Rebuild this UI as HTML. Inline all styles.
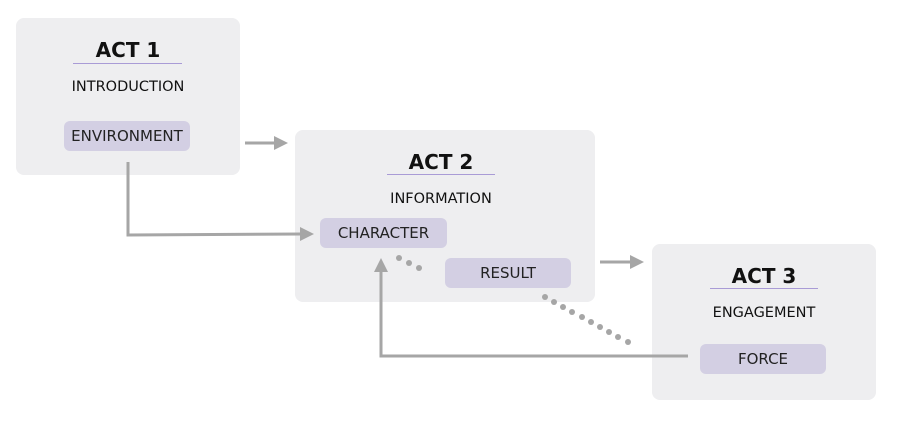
<!DOCTYPE html>
<html><head><style>
body{margin:0;width:900px;height:427px;background:#fff;position:relative;overflow:hidden;font-family:"DejaVu Sans","Liberation Sans",sans-serif;}
.box{position:absolute;background:#eeeef0;border-radius:8px;}
.t{position:absolute;text-align:center;color:#111;}
.h{font-weight:bold;font-size:20px;}
.s{font-size:14.5px;}
.u{position:absolute;height:1px;background:#a99bd6;}
.p{position:absolute;background:#d3cfe3;border-radius:6px;font-size:15px;color:#222;text-align:center;}
svg{position:absolute;left:0;top:0;}
</style></head><body>
<div class="box" style="left:16px;top:18px;width:224px;height:157px"></div>
<div class="box" style="left:295px;top:130px;width:300px;height:172px"></div>
<div class="box" style="left:652px;top:244px;width:224px;height:156px"></div>

<div class="t h" style="left:28px;width:200px;top:38px">ACT 1</div>
<div class="u" style="left:73px;width:109px;top:63px"></div>
<div class="t s" style="left:28px;width:200px;top:79px">INTRODUCTION</div>
<div class="p" style="left:64px;top:121px;width:126px;height:30px;line-height:31px">ENVIRONMENT</div>

<div class="t h" style="left:341px;width:200px;top:150px">ACT 2</div>
<div class="u" style="left:387px;width:108px;top:174px"></div>
<div class="t s" style="left:341px;width:200px;top:191px">INFORMATION</div>
<div class="p" style="left:320px;top:218px;width:127px;height:30px;line-height:31px">CHARACTER</div>
<div class="p" style="left:445px;top:258px;width:126px;height:30px;line-height:31px">RESULT</div>

<div class="t h" style="left:664px;width:200px;top:264px">ACT 3</div>
<div class="u" style="left:710px;width:108px;top:288px"></div>
<div class="t s" style="left:664px;width:200px;top:305px">ENGAGEMENT</div>
<div class="p" style="left:700px;top:344px;width:126px;height:30px;line-height:31px">FORCE</div>

<svg width="900" height="427">
<g stroke="#a6a6a6" stroke-width="3" fill="none">
<line x1="245" y1="143" x2="276" y2="143"/>
<line x1="600" y1="262" x2="631" y2="262"/>
<polyline points="128,162 128,235 302,234"/>
<polyline points="688,356 381,356 381,272"/>
</g>
<g fill="#a6a6a6">
<polygon points="288,143 274,136 274,150"/>
<polygon points="644,262 630,255 630,269"/>
<polygon points="314,234 300,227 300,241"/>
<polygon points="381,258 374,272 388,272"/>
<circle cx="399" cy="258" r="3"/><circle cx="409" cy="263" r="3"/><circle cx="419" cy="268" r="3"/>
<circle cx="545" cy="297" r="3"/><circle cx="554" cy="302" r="3"/><circle cx="563" cy="307" r="3"/><circle cx="572" cy="312" r="3"/><circle cx="582" cy="317" r="3"/><circle cx="591" cy="322" r="3"/><circle cx="600" cy="327" r="3"/><circle cx="609" cy="332" r="3"/><circle cx="618" cy="337" r="3"/><circle cx="628" cy="342" r="3"/><circle cx="637" cy="342" r="0"/>
</g>
</svg>
</body></html>
